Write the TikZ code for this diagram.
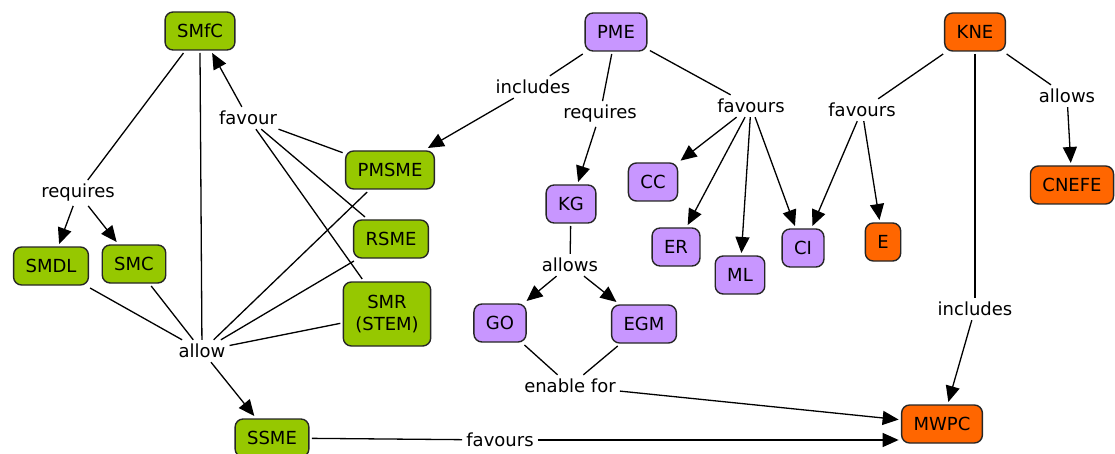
\documentclass[tikz,border=0pt]{standalone}
\usepackage{fontspec}
\setmainfont{DejaVu Sans}
\usetikzlibrary{arrows.meta}
\definecolor{cgreen}{RGB}{150,200,0}
\definecolor{cpurple}{RGB}{200,150,255}
\definecolor{corange}{RGB}{255,102,0}
\begin{document}
\begin{tikzpicture}[x=1pt,y=-1pt,
  concept/.style={draw=black!85, line width=1.4pt, rounded corners=8pt, inner xsep=12pt, inner ysep=3pt, minimum height=38pt, outer sep=3pt, align=center, font=\fontsize{18}{22}\selectfont},
  gnode/.style={concept, fill=cgreen},
  pnode/.style={concept, fill=cpurple},
  onode/.style={concept, fill=corange},
  lbl/.style={inner sep=4pt, font=\fontsize{18}{22}\selectfont},
  link/.style={line width=1.3pt, draw=black},
  arr/.style={link, -{Triangle[length=16pt,width=14pt]}}]
\useasboundingbox (0,0) rectangle (1115,454);
% concepts
\node[gnode] (SMfC) at (200,31) {SMfC};
\node[gnode] (PMSME) at (390,170) {PMSME};
\node[gnode] (RSME) at (391,239) {RSME};
\node[gnode, minimum height=64pt] (SMR) at (387,314) {SMR\\(STEM)};
\node[gnode] (SMDL) at (51,266) {SMDL};
\node[gnode] (SMC) at (134,264) {SMC};
\node[gnode] (SSME) at (272,438) {SSME};
\node[pnode] (PME) at (616,32) {PME};
\node[pnode] (KG) at (571,204) {KG};
\node[pnode] (CC) at (653,182) {CC};
\node[pnode] (ER) at (676,247) {ER};
\node[pnode] (ML) at (740,275) {ML};
\node[pnode] (CI) at (803,248) {CI};
\node[pnode] (GO) at (500,323) {GO};
\node[pnode] (EGM) at (644,324) {EGM};
\node[onode] (KNE) at (975,32) {KNE};
\node[onode] (E) at (883,242) {E};
\node[onode] (CNEFE) at (1072,185) {CNEFE};
\node[onode] (MWPC) at (942,424) {MWPC};
% labels
\node[lbl] (req1) at (78,193) {requires};
\node[lbl] (fav1) at (248,118) {favour};
\node[lbl] (allow) at (202,351) {allow};
\node[lbl] (inc1) at (533,87) {includes};
\node[lbl] (req2) at (600,114) {requires};
\node[lbl] (fav2) at (751,106) {favours};
\node[lbl] (allows1) at (570,265) {allows};
\node[lbl] (enable) at (570,386) {enable for};
\node[lbl] (fav3) at (500,440) {favours};
\node[lbl] (fav4) at (862,110) {favours};
\node[lbl] (allows2) at (1067,96) {allows};
\node[lbl] (inc2) at (975,309) {includes};
% links
\draw[link] (SMfC) -- (req1);
\draw[arr] (req1) -- (SMDL);
\draw[arr] (req1) -- (SMC);
\draw[link] (SMfC.south) -- (allow);
\draw[arr] (fav1) -- (SMfC);
\draw[link] (PMSME) -- (fav1);
\draw[link] (RSME) -- (fav1);
\draw[link] (SMR) -- (fav1);
\draw[link] (SMDL) -- (allow);
\draw[link] (SMC) -- (allow);
\draw[link] (PMSME) -- (allow);
\draw[link] (RSME) -- (allow);
\draw[link] (SMR) -- (allow);
\draw[arr] (allow) -- (SSME);
\draw[link] (SSME) -- (fav3);
\draw[arr] (fav3) -- (fav3 -| MWPC.west);
\draw[link] (PME) -- (inc1);
\draw[arr] (inc1) -- (PMSME);
\draw[link] (PME) -- (req2);
\draw[arr] (req2) -- (KG);
\draw[link] (PME) -- (fav2);
\draw[arr] (fav2) -- (CC);
\draw[arr] (fav2) -- (ER);
\draw[arr] (fav2) -- (ML);
\draw[arr] (fav2) -- (CI);
\draw[link] (KG) -- (allows1);
\draw[arr] (allows1) -- (GO);
\draw[arr] (allows1) -- (EGM);
\draw[link] (GO) -- (enable);
\draw[link] (EGM) -- (enable);
\draw[arr] (enable) -- (MWPC);
\draw[link] (KNE) -- (fav4);
\draw[arr] (fav4) -- (CI);
\draw[arr] (fav4) -- (E);
\draw[link] (KNE) -- (allows2);
\draw[arr] (allows2) -- (CNEFE);
\draw[link] (KNE) -- (inc2);
\draw[arr] (inc2) -- (MWPC);
\end{tikzpicture}
\end{document}
